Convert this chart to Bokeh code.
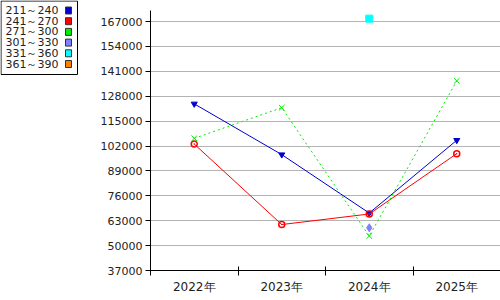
import numpy as np
from bokeh.plotting import figure
from bokeh.layouts import row
from bokeh.models import FixedTicker, NumeralTickFormatter, Range1d, ColumnDataSource
from bokeh.core.properties import value
from bokeh.embed import file_html
from bokeh.resources import INLINE

nan = np.nan
years = ["2022年", "2023年", "2024年", "2025年"]
names = ["211～240", "241～270", "271～300", "301～330", "331～360", "361～390"]
colors = ["#0000cc", "#ff0000", "#00ee00", "#8080ff", "#00ffff", "#ff8000"]
s211 = [124000, 97500, 67000, 105000]
s241 = [103000, 61000, 66500, 98000]
s271 = [106000, 122000, 55000, 136000]
s301 = [nan, nan, 59300, nan]
s331 = [nan, nan, 168500, nan]
s361 = [nan, nan, nan, nan]
series = [s211, s241, s271, s301, s331, s361]
yticks = [37000, 50000, 63000, 76000, 89000, 102000, 115000, 128000, 141000, 154000, 167000]

markers = ["inverted_triangle", "circle_dot", "x", "diamond", "square", "circle"]
dashes = ["solid", "solid", "2 3", "solid", "solid", "solid"]

FONT = "DejaVu Sans"

p = figure(width=420, height=300, output_backend="svg", toolbar_location=None, title=None,
           x_range=Range1d(0, 4), y_range=Range1d(37000, 177970),
           min_border_left=70, min_border_right=0, min_border_top=0, min_border_bottom=30)
p.outline_line_color = None
p.xgrid.visible = False
p.ygrid.grid_line_color = "#b4b4b4"
p.ygrid.ticker = FixedTicker(ticks=yticks)

xs = [i + 0.5 for i in range(len(years))]
for vals, col, mk, dash in zip(series, colors, markers, dashes):
    src = ColumnDataSource(dict(x=xs, y=vals))
    p.line("x", "y", source=src, line_color=col, line_width=1, line_dash=dash)
    if mk == "circle_dot":
        p.scatter("x", "y", source=src, marker=mk, size=6, line_color=col,
                  fill_color=None, line_width=1.5)
    elif mk == "x":
        p.scatter("x", "y", source=src, marker=mk, size=8, line_color=col, line_width=1)
    else:
        sz = {"inverted_triangle": 6, "diamond": 8, "square": 7}.get(mk, 7)
        p.scatter("x", "y", source=src, marker=mk, size=sz, line_color=col, fill_color=col)

p.yaxis.ticker = FixedTicker(ticks=yticks)
p.yaxis.bounds = (37000, 172750)
p.yaxis.formatter = NumeralTickFormatter(format="0")
p.yaxis.major_tick_in = 0
p.yaxis.major_tick_out = 5
p.yaxis.minor_tick_line_color = None
p.yaxis.major_label_text_font = FONT
p.yaxis.major_label_text_font_size = "11px"
p.yaxis.major_label_text_color = "#222222"
p.yaxis.major_label_standoff = 3
p.yaxis.axis_line_color = "black"

p.xaxis.ticker = FixedTicker(ticks=xs, minor_ticks=list(range(len(years) + 1)))
p.xaxis.major_label_overrides = {x: y for x, y in zip(xs, years)}
p.xaxis.major_tick_line_color = None
p.xaxis.minor_tick_in = 4
p.xaxis.minor_tick_out = 5
p.xaxis.minor_tick_line_color = "black"
p.xaxis.major_label_text_font = FONT
p.xaxis.major_label_text_font_size = "12px"
p.xaxis.major_label_text_color = "#222222"
p.xaxis.major_label_standoff = 3
p.xaxis.axis_line_color = "black"

# legend panel (frame aligned with the main frame: pixel rows 0..270)
lg = figure(width=80, height=300, output_backend="svg", toolbar_location=None, title=None,
            x_range=Range1d(0, 80), y_range=Range1d(270, 0),
            x_axis_location=None, y_axis_location=None,
            min_border_left=0, min_border_right=0,
            min_border_top=0, min_border_bottom=30)
lg.grid.visible = False
lg.outline_line_color = None
lg.quad(left=[0.5], right=[77], top=[0.5], bottom=[74], fill_color="white",
        line_color="black", line_width=1)
rows_y = [10 + 10.7 * i for i in range(len(names))]
lsrc = ColumnDataSource(dict(x=[5] * len(names), y=rows_y, t=names,
                             sx=[68] * len(names), c=colors))
lg.text("x", "y", text="t", source=lsrc, text_font=value(FONT), text_font_size="11px",
        text_baseline="middle", text_color="#222222")
lg.rect("sx", "y", width=6, height=7, source=lsrc, fill_color="c", line_color="#333333",
        line_width=1)

layout = row(lg, p)
open("out.html", "w").write(file_html(layout, INLINE))
